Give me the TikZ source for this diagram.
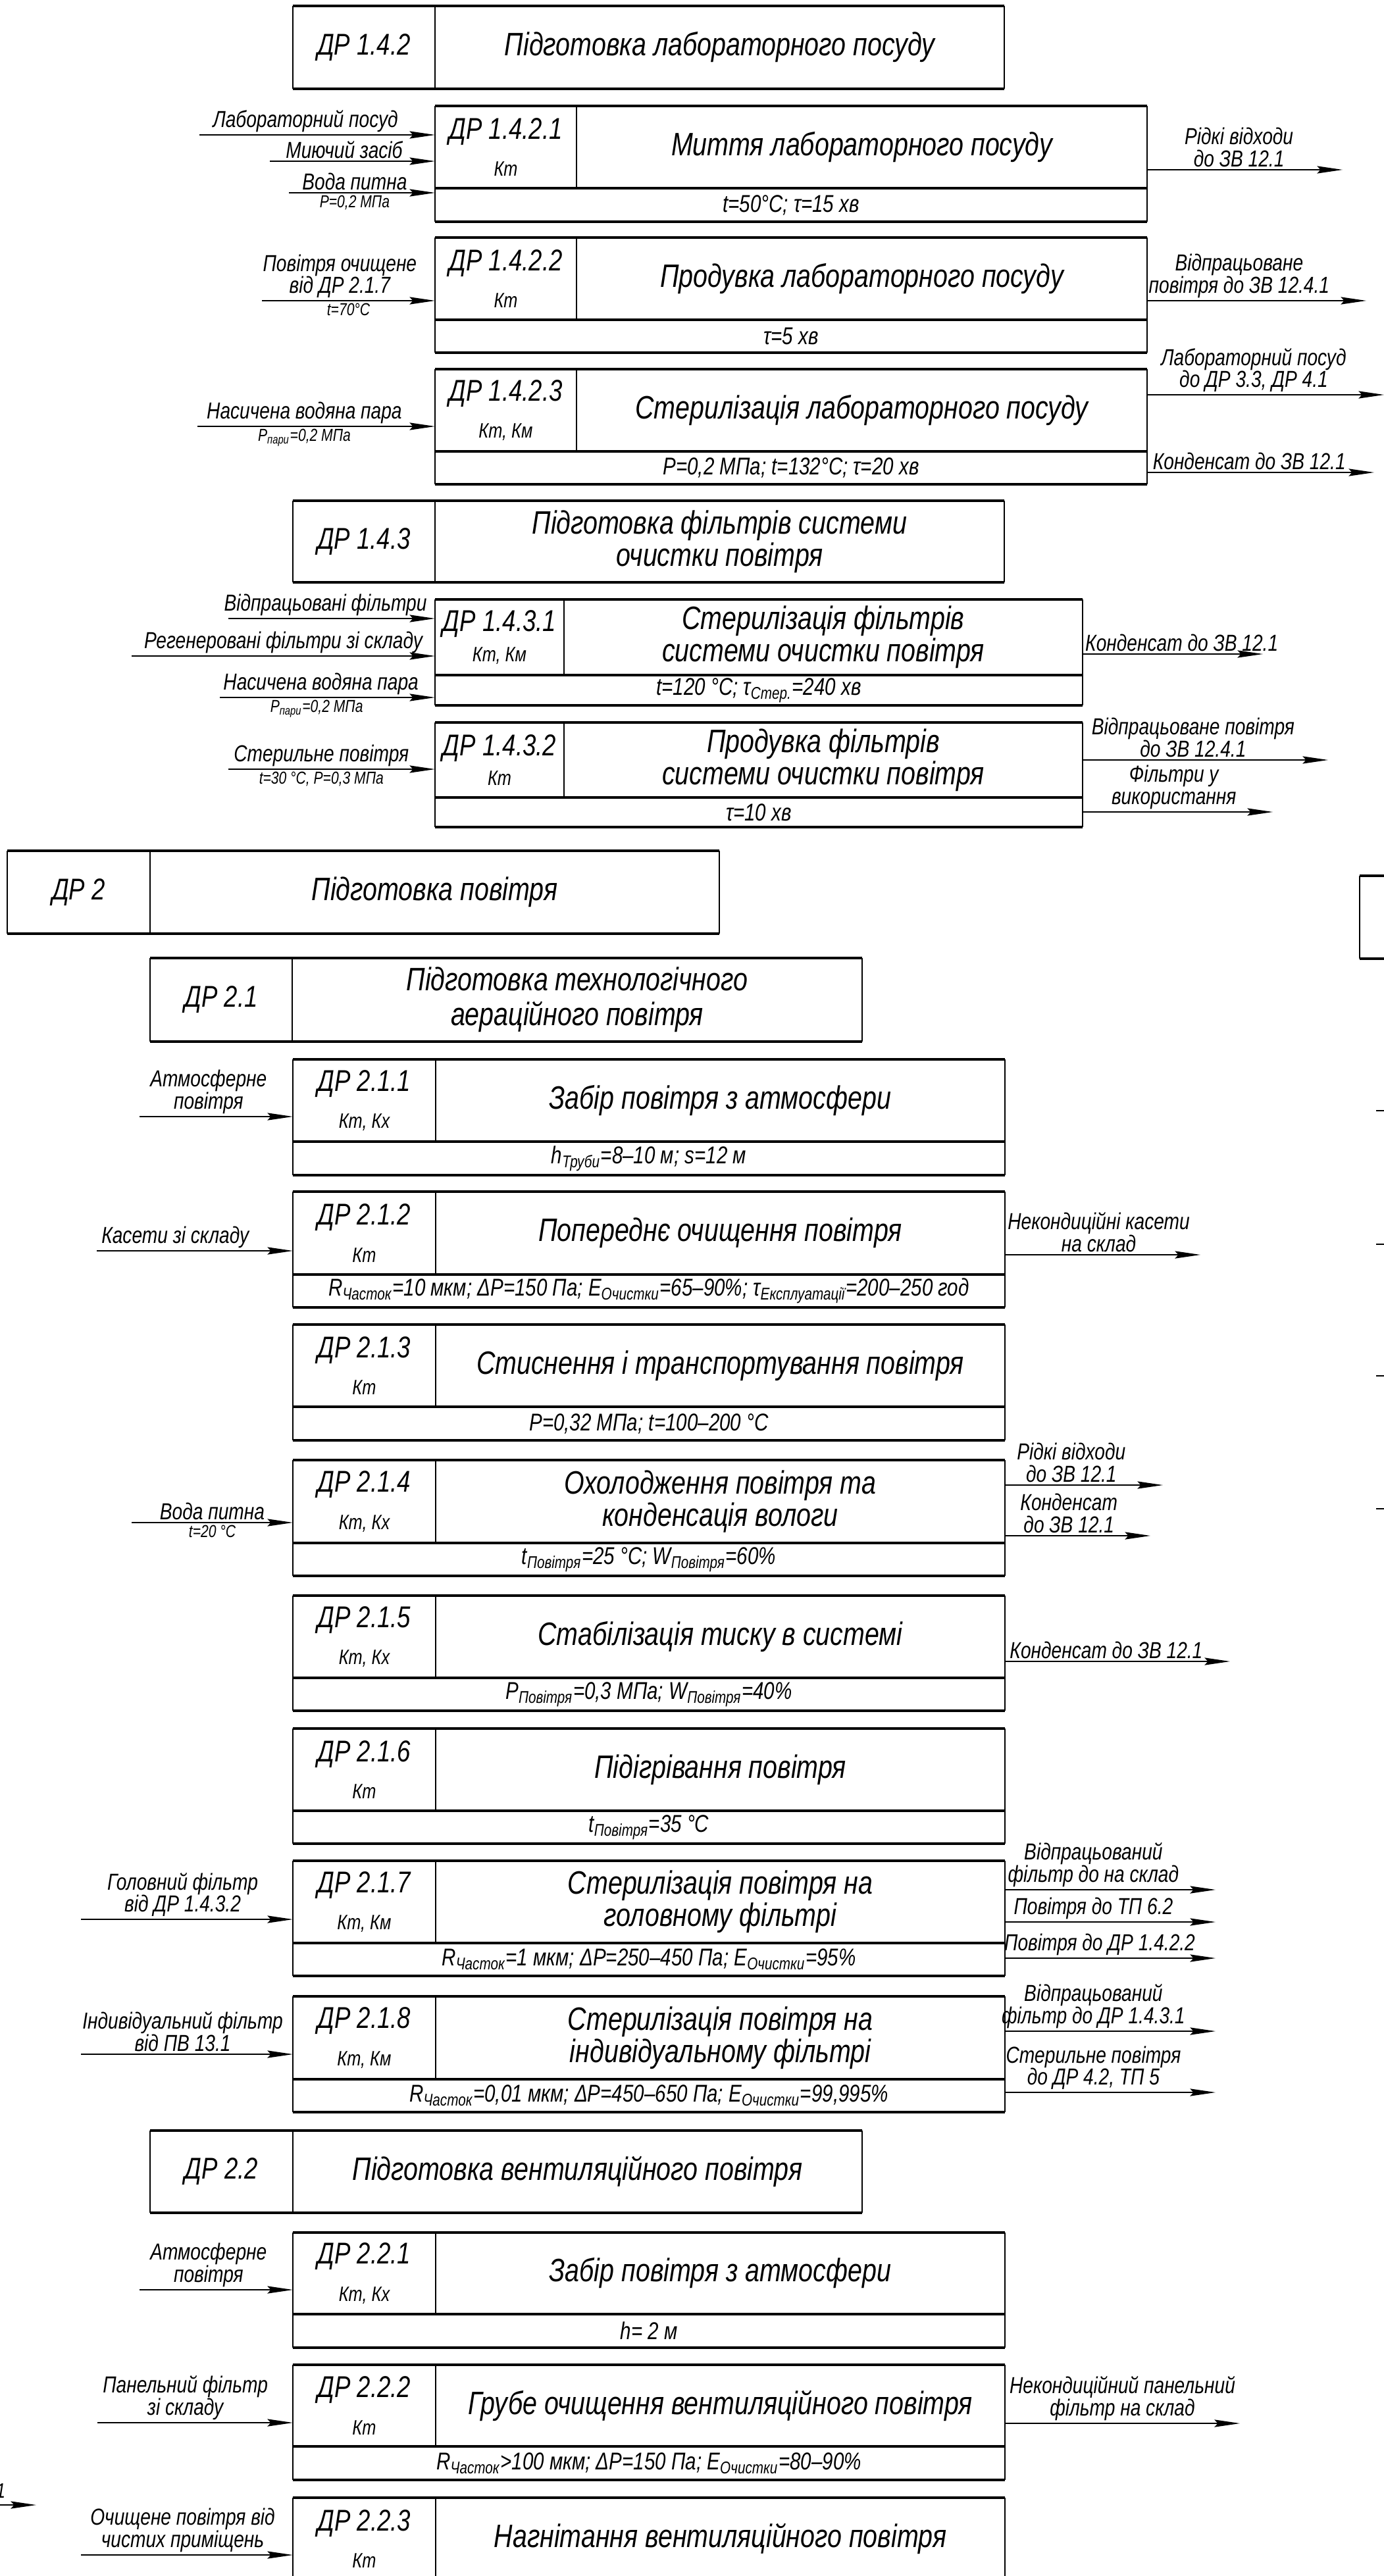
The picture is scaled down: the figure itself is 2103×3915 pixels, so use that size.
\documentclass[tikz,border=0pt]{standalone}
\usepackage{fontspec}
\setmainfont{Liberation Sans}[FakeStretch=0.8]
\usepackage{xcolor}
\definecolor{cInk}{HTML}{000000}
\usepackage{tikz}
\usetikzlibrary{arrows.meta,calc}
\tikzset{
  box-frame/.style={inner sep=0pt,outer sep=0pt},
  box-rule/.style={line width=1.2pt,draw=cInk},
  box-side/.style={line width=0.6pt,draw=cInk},
  txt-id/.style={font=\itshape\fontsize{13}{16}\selectfont,align=center,inner sep=0pt},
  txt-title/.style={font=\itshape\fontsize{14}{14}\selectfont,align=center,inner sep=0pt},
  txt-par/.style={font=\itshape\fontsize{10.5}{12}\selectfont,align=center,inner sep=0pt},
  txt-lbl/.style={font=\itshape\fontsize{10}{9.5}\selectfont,align=center,inner sep=1pt},
  txt-sub/.style={font=\itshape\fontsize{7.5}{8}\selectfont,align=center,inner sep=1pt},
  arrow/.style={-{Stealth[length=11pt,width=3.2pt,inset=1.5pt]},line width=0.55pt,draw=cInk},
  stub/.style={line width=0.55pt,draw=cInk},
}
\newcommand{\sbs}[1]{\textsubscript{#1}}
\newcommand{\cls}[1]{{\fontsize{9}{16}\selectfont #1}}
% блок ДР: ім'я, x ліво, x поділ, x право, y верх, y середина, y низ
\newcommand{\procbox}[7]{%
  \node[box-frame,minimum width={(#4-#2)*0.01cm},minimum height={(#7-#5)*0.01cm}] (#1) at ({(#2+#4)/2},{(#5+#7)/2}) {};
  \draw[box-side] (#1.north west) -- (#1.south west) (#1.north east) -- (#1.south east) (#3,#5) -- (#3,#6);
  \draw[box-rule] (#1.north west) -- (#1.north east) (#2,#6) -- (#4,#6) (#1.south west) -- (#1.south east);
  \coordinate (#1-id) at ({(#2+#3)/2},{(#5+#6)/2});
  \coordinate (#1-nm) at ({(#3+#4)/2},{(#5+#6)/2});
  \coordinate (#1-pr) at ({(#2+#4)/2},{(#6+#7)/2});
}
% заголовок розділу: ім'я, x ліво, x поділ, x право, y верх, y низ
\newcommand{\hdrbox}[6]{%
  \node[box-frame,minimum width={(#4-#2)*0.01cm},minimum height={(#6-#5)*0.01cm}] (#1) at ({(#2+#4)/2},{(#5+#6)/2}) {};
  \draw[box-side] (#1.north west) -- (#1.south west) (#1.north east) -- (#1.south east) (#3,#5) -- (#3,#6);
  \draw[box-rule] (#1.north west) -- (#1.north east) (#1.south west) -- (#1.south east);
  \coordinate (#1-id) at ({(#2+#3)/2},{(#5+#6)/2});
  \coordinate (#1-nm) at ({(#3+#4)/2},{(#5+#6)/2});
}

\begin{document}
\begin{tikzpicture}[x=0.01cm,y=-0.01cm]
  \useasboundingbox (0,0) rectangle (2103,3915);

  % ДР 1.4.2
  \hdrbox{h1}{445}{661}{1526}{9}{135}
  \node[txt-id] (h1-idt) at (h1-id) {ДР 1.4.2};
  \node[txt-title] (h1-nmt) at (h1-nm) {Підготовка лабораторного посуду};

  \procbox{p1}{661}{876}{1743}{161}{286}{337}
  \node[txt-id] (p1-idt) at (p1-id) {ДР 1.4.2.1\\\cls{Кт}};
  \node[txt-title] (p1-nmt) at (p1-nm) {Миття лабораторного посуду};
  \node[txt-par] (p1-prt) at (p1-pr) {t=50°C; τ=15 хв};
  \coordinate (p1-a) at (303,205);
  \coordinate (p1-b) at (410,245);
  \coordinate (p1-c) at (439,293);
  \coordinate (p1-o) at (2040,258);
  \draw[arrow] (p1-a) -- (p1-a -| p1.west) node[txt-lbl,pos=.45,above] (p1-al) {Лабораторний посуд};
  \draw[arrow] (p1-b) -- (p1-b -| p1.west) node[txt-lbl,pos=.45,above] (p1-bl) {Миючий засіб};
  \draw[arrow] (p1-c) -- (p1-c -| p1.west) node[txt-lbl,pos=.45,above] (p1-cl) {Вода питна}
    node[txt-sub,pos=.45,below] (p1-cs) {P=0,2 МПа};
  \draw[arrow] (p1-o -| p1.east) -- (p1-o) node[txt-lbl,pos=.47,above] (p1-ol) {Рідкі відходи\\до ЗВ 12.1};

  \procbox{p2}{661}{876}{1743}{361}{486}{536}
  \node[txt-id] (p2-idt) at (p2-id) {ДР 1.4.2.2\\\cls{Кт}};
  \node[txt-title] (p2-nmt) at (p2-nm) {Продувка лабораторного посуду};
  \node[txt-par] (p2-prt) at (p2-pr) {τ=5 хв};
  \coordinate (p2-a) at (398,457);
  \coordinate (p2-o) at (2076,457);
  \draw[arrow] (p2-a) -- (p2-a -| p2.west) node[txt-lbl,pos=.45,above] (p2-al) {Повітря очищене\\від ДР 2.1.7}
    node[txt-sub,pos=.5,below] (p2-as) {t=70°C};
  \draw[arrow] (p2-o -| p2.east) -- (p2-o) node[txt-lbl,pos=.42,above] (p2-ol) {Відпрацьоване\\повітря до ЗВ 12.4.1};

  \procbox{p3}{661}{876}{1743}{561}{686}{736}
  \node[txt-id] (p3-idt) at (p3-id) {ДР 1.4.2.3\\\cls{Кт, Км}};
  \node[txt-title] (p3-nmt) at (p3-nm) {Стерилізація лабораторного посуду};
  \node[txt-par] (p3-prt) at (p3-pr) {P=0,2 МПа; t=132°C; τ=20 хв};
  \coordinate (p3-a) at (300,648);
  \coordinate (p3-o) at (2103,600);
  \coordinate (p3-p) at (2088,718);
  \draw[arrow] (p3-a) -- (p3-a -| p3.west) node[txt-lbl,pos=.45,above] (p3-al) {Насичена водяна пара}
    node[txt-sub,pos=.45,below] (p3-as) {P\sbs{пари}=0,2 МПа};
  \draw[arrow] (p3-o -| p3.east) -- (p3-o) node[txt-lbl,pos=.45,above] (p3-ol) {Лабораторний посуд\\до ДР 3.3, ДР 4.1};
  \draw[arrow] (p3-p -| p3.east) -- (p3-p) node[txt-lbl,pos=.45,above] (p3-pl) {Конденсат до ЗВ 12.1};

  % ДР 1.4.3
  \hdrbox{h2}{445}{661}{1526}{761}{885}
  \node[txt-id] (h2-idt) at (h2-id) {ДР 1.4.3};
  \node[txt-title] (h2-nmt) at (h2-nm) {Підготовка фільтрів системи\\очистки повітря};

  \procbox{p4}{661}{857}{1645}{911}{1026}{1072}
  \node[txt-id,font=\itshape\fontsize{13}{13}\selectfont] (p4-idt) at (p4-id) {ДР 1.4.3.1\\\cls{Кт, Км}};
  \node[txt-title,font=\itshape\fontsize{14}{12}\selectfont] (p4-nmt) at (p4-nm) {Стерилізація фільтрів\\системи очистки повітря};
  \node[txt-par] (p4-prt) at (p4-pr) {t=120 °C; τ\sbs{Стер.}=240 хв};
  \coordinate (p4-a) at (347,940);
  \coordinate (p4-b) at (200,997);
  \coordinate (p4-c) at (334,1060);
  \coordinate (p4-o) at (1919,994);
  \draw[arrow] (p4-a) -- (p4-a -| p4.west) node[txt-lbl,pos=.47,above] (p4-al) {Відпрацьовані фільтри};
  \draw[arrow] (p4-b) -- (p4-b -| p4.west) node[txt-lbl,pos=.5,above] (p4-bl) {Регенеровані фільтри зі складу};
  \draw[arrow] (p4-c) -- (p4-c -| p4.west) node[txt-lbl,pos=.47,above] (p4-cl) {Насичена водяна пара}
    node[txt-sub,pos=.45,below] (p4-cs) {P\sbs{пари}=0,2 МПа};
  \draw[arrow] (p4-o -| p4.east) -- (p4-o) node[txt-lbl,pos=.55,above] (p4-ol) {Конденсат до ЗВ 12.1};

  \procbox{p5}{661}{857}{1645}{1098}{1212}{1257}
  \node[txt-id,font=\itshape\fontsize{13}{13}\selectfont] (p5-idt) at (p5-id) {ДР 1.4.3.2\\\cls{Кт}};
  \node[txt-title,font=\itshape\fontsize{14}{12}\selectfont] (p5-nmt) at (p5-nm) {Продувка фільтрів\\системи очистки повітря};
  \node[txt-par] (p5-prt) at (p5-pr) {τ=10 хв};
  \coordinate (p5-a) at (347,1169);
  \coordinate (p5-o) at (2018,1155);
  \coordinate (p5-p) at (1934,1234);
  \draw[arrow] (p5-a) -- (p5-a -| p5.west) node[txt-lbl,pos=.45,above] (p5-al) {Стерильне повітря}
    node[txt-sub,pos=.45,below] (p5-as) {t=30 °C, P=0,3 МПа};
  \draw[arrow] (p5-o -| p5.east) -- (p5-o) node[txt-lbl,pos=.45,above] (p5-ol) {Відпрацьоване повітря\\до ЗВ 12.4.1};
  \draw[arrow] (p5-p -| p5.east) -- (p5-p) node[txt-lbl,pos=.48,above] (p5-pl) {Фільтри у\\використання};

  % ДР 2
  \hdrbox{h3}{11}{228}{1093}{1293}{1419}
  \node[txt-id] (h3-idt) at (h3-id) {ДР 2};
  \node[txt-title] (h3-nmt) at (h3-nm) {Підготовка повітря};

  % обрізаний блок праворуч
  \node[box-frame,minimum width=4cm,minimum height=1.26cm] (cut) at (2266,1394) {};
  \draw[box-side] (cut.north west) -- (cut.south west);
  \draw[box-rule] (cut.north west) -- (cut.north east) (cut.south west) -- (cut.south east);
  \foreach \yy [count=\k] in {1688,1891,2091,2293} {
    \coordinate (st\k) at (2091,\yy);
    \draw[stub] (st\k) -- ++(60,0);
  }

  % ДР 2.1
  \hdrbox{h4}{228}{444}{1310}{1456}{1583}
  \node[txt-id] (h4-idt) at (h4-id) {ДР 2.1};
  \node[txt-title,font=\itshape\fontsize{14}{15}\selectfont] (h4-nmt) at (h4-nm) {Підготовка технологічного\\аераційного повітря};

  \procbox{p6}{445}{662}{1527}{1610}{1735}{1786}
  \node[txt-id] (p6-idt) at (p6-id) {ДР 2.1.1\\\cls{Кт, Кх}};
  \node[txt-title] (p6-nmt) at (p6-nm) {Забір повітря з атмосфери};
  \node[txt-par] (p6-prt) at (p6-pr) {h\sbs{Труби}=8–10 м; s=12 м};
  \coordinate (p6-a) at (212,1697);
  \draw[arrow] (p6-a) -- (p6-a -| p6.west) node[txt-lbl,pos=.45,above] (p6-al) {Атмосферне\\повітря};

  \procbox{p7}{445}{662}{1527}{1811}{1937}{1987}
  \node[txt-id] (p7-idt) at (p7-id) {ДР 2.1.2\\\cls{Кт}};
  \node[txt-title] (p7-nmt) at (p7-nm) {Попереднє очищення повітря};
  \node[txt-par] (p7-prt) at (p7-pr) {R\sbs{Часток}=10 мкм; ΔP=150 Па; E\sbs{Очистки}=65–90\%; τ\sbs{Експлуатації}=200–250 год};
  \coordinate (p7-a) at (147,1901);
  \coordinate (p7-o) at (1824,1907);
  \draw[arrow] (p7-a) -- (p7-a -| p7.west) node[txt-lbl,pos=.4,above] (p7-al) {Касети зі складу};
  \draw[arrow] (p7-o -| p7.east) -- (p7-o) node[txt-lbl,pos=.48,above] (p7-ol) {Некондиційні касети\\на склад};

  \procbox{p8}{445}{662}{1527}{2013}{2138}{2189}
  \node[txt-id] (p8-idt) at (p8-id) {ДР 2.1.3\\\cls{Кт}};
  \node[txt-title] (p8-nmt) at (p8-nm) {Стиснення і транспортування повітря};
  \node[txt-par] (p8-prt) at (p8-pr) {P=0,32 МПа; t=100–200 °C};

  \procbox{p9}{445}{662}{1527}{2219}{2345}{2395}
  \node[txt-id] (p9-idt) at (p9-id) {ДР 2.1.4\\\cls{Кт, Кх}};
  \node[txt-title] (p9-nmt) at (p9-nm) {Охолодження повітря та\\конденсація вологи};
  \node[txt-par] (p9-prt) at (p9-pr) {t\sbs{Повітря}=25 °C; W\sbs{Повітря}=60\%};
  \coordinate (p9-a) at (200,2314);
  \coordinate (p9-o) at (1767,2257);
  \coordinate (p9-p) at (1748,2334);
  \draw[arrow] (p9-a) -- (p9-a -| p9.west) node[txt-lbl,pos=.5,above] (p9-al) {Вода питна}
    node[txt-sub,pos=.5,below] (p9-as) {t=20 °C};
  \draw[arrow] (p9-o -| p9.east) -- (p9-o) node[txt-lbl,pos=.42,above] (p9-ol) {Рідкі відходи\\до ЗВ 12.1};
  \draw[arrow] (p9-p -| p9.east) -- (p9-p) node[txt-lbl,pos=.44,above] (p9-pl) {Конденсат\\до ЗВ 12.1};

  \procbox{p10}{445}{662}{1527}{2425}{2550}{2600}
  \node[txt-id] (p10-idt) at (p10-id) {ДР 2.1.5\\\cls{Кт, Кх}};
  \node[txt-title] (p10-nmt) at (p10-nm) {Стабілізація тиску в системі};
  \node[txt-par] (p10-prt) at (p10-pr) {P\sbs{Повітря}=0,3 МПа; W\sbs{Повітря}=40\%};
  \coordinate (p10-o) at (1869,2525);
  \draw[arrow] (p10-o -| p10.east) -- (p10-o) node[txt-lbl,pos=.45,above] (p10-ol) {Конденсат до ЗВ 12.1};

  \procbox{p11}{445}{662}{1527}{2627}{2752}{2802}
  \node[txt-id] (p11-idt) at (p11-id) {ДР 2.1.6\\\cls{Кт}};
  \node[txt-title] (p11-nmt) at (p11-nm) {Підігрівання повітря};
  \node[txt-par] (p11-prt) at (p11-pr) {t\sbs{Повітря}=35 °C};

  \procbox{p12}{445}{662}{1527}{2828}{2953}{3003}
  \node[txt-id] (p12-idt) at (p12-id) {ДР 2.1.7\\\cls{Кт, Км}};
  \node[txt-title] (p12-nmt) at (p12-nm) {Стерилізація повітря на\\головному фільтрі};
  \node[txt-par] (p12-prt) at (p12-pr) {R\sbs{Часток}=1 мкм; ΔP=250–450 Па; E\sbs{Очистки}=95\%};
  \coordinate (p12-a) at (123,2917);
  \coordinate (p12-o) at (1847,2872);
  \coordinate (p12-p) at (1847,2921);
  \coordinate (p12-q) at (1847,2976);
  \draw[arrow] (p12-a) -- (p12-a -| p12.west) node[txt-lbl,pos=.48,above] (p12-al) {Головний фільтр\\від ДР 1.4.3.2};
  \draw[arrow] (p12-o -| p12.east) -- (p12-o) node[txt-lbl,pos=.42,above] (p12-ol) {Відпрацьований\\фільтр до на склад};
  \draw[arrow] (p12-p -| p12.east) -- (p12-p) node[txt-lbl,pos=.42,above] (p12-pl) {Повітря до ТП 6.2};
  \draw[arrow] (p12-q -| p12.east) -- (p12-q) node[txt-lbl,pos=.45,above] (p12-ql) {Повітря до ДР 1.4.2.2};

  \procbox{p13}{445}{662}{1527}{3034}{3160}{3210}
  \node[txt-id] (p13-idt) at (p13-id) {ДР 2.1.8\\\cls{Кт, Км}};
  \node[txt-title] (p13-nmt) at (p13-nm) {Стерилізація повітря на\\індивідуальному фільтрі};
  \node[txt-par] (p13-prt) at (p13-pr) {R\sbs{Часток}=0,01 мкм; ΔP=450–650 Па; E\sbs{Очистки}=99,995\%};
  \coordinate (p13-a) at (123,3122);
  \coordinate (p13-o) at (1847,3087);
  \coordinate (p13-p) at (1847,3180);
  \draw[arrow] (p13-a) -- (p13-a -| p13.west) node[txt-lbl,pos=.48,above] (p13-al) {Індивідуальний фільтр\\від ПВ 13.1};
  \draw[arrow] (p13-o -| p13.east) -- (p13-o) node[txt-lbl,pos=.42,above] (p13-ol) {Відпрацьований\\фільтр до ДР 1.4.3.1};
  \draw[arrow] (p13-p -| p13.east) -- (p13-p) node[txt-lbl,pos=.42,above] (p13-pl) {Стерильне повітря\\до ДР 4.2, ТП 5};

  % ДР 2.2
  \hdrbox{h5}{228}{445}{1310}{3238}{3363}
  \node[txt-id] (h5-idt) at (h5-id) {ДР 2.2};
  \node[txt-title] (h5-nmt) at (h5-nm) {Підготовка вентиляційного повітря};

  \procbox{p14}{445}{662}{1527}{3393}{3517}{3568}
  \node[txt-id] (p14-idt) at (p14-id) {ДР 2.2.1\\\cls{Кт, Кх}};
  \node[txt-title] (p14-nmt) at (p14-nm) {Забір повітря з атмосфери};
  \node[txt-par] (p14-prt) at (p14-pr) {h= 2 м};
  \coordinate (p14-a) at (212,3480);
  \draw[arrow] (p14-a) -- (p14-a -| p14.west) node[txt-lbl,pos=.45,above] (p14-al) {Атмосферне\\повітря};

  \procbox{p15}{445}{662}{1527}{3594}{3718}{3769}
  \node[txt-id] (p15-idt) at (p15-id) {ДР 2.2.2\\\cls{Кт}};
  \node[txt-title] (p15-nmt) at (p15-nm) {Грубе очищення вентиляційного повітря};
  \node[txt-par] (p15-prt) at (p15-pr) {R\sbs{Часток}>100 мкм; ΔP=150 Па; E\sbs{Очистки}=80–90\%};
  \coordinate (p15-a) at (148,3682);
  \coordinate (p15-o) at (1884,3683);
  \draw[arrow] (p15-a) -- (p15-a -| p15.west) node[txt-lbl,pos=.45,above] (p15-al) {Панельний фільтр\\зі складу};
  \draw[arrow] (p15-o -| p15.east) -- (p15-o) node[txt-lbl,pos=.5,above] (p15-ol) {Некондиційний панельний\\фільтр на склад};

  \procbox{p16}{445}{662}{1527}{3796}{3921}{3972}
  \node[txt-id] (p16-idt) at (p16-id) {ДР 2.2.3\\\cls{Кт}};
  \node[txt-title] (p16-nmt) at (p16-nm) {Нагнітання вентиляційного повітря};
  \coordinate (p16-a) at (123,3883);
  \draw[arrow] (p16-a) -- (p16-a -| p16.west) node[txt-lbl,pos=.48,above] (p16-al) {Очищене повітря від\\чистих приміщень};

  % обрізана стрілка ліворуч
  \coordinate (lf-a) at (-60,3807);
  \coordinate (lf-b) at (55,3807);
  \draw[arrow] (lf-a) -- (lf-b);
  \node[txt-lbl,font=\itshape\fontsize{9}{9}\selectfont,anchor=south east,inner sep=0pt] (lf-t) at (9,3797) {1};
\end{tikzpicture}
\end{document}
